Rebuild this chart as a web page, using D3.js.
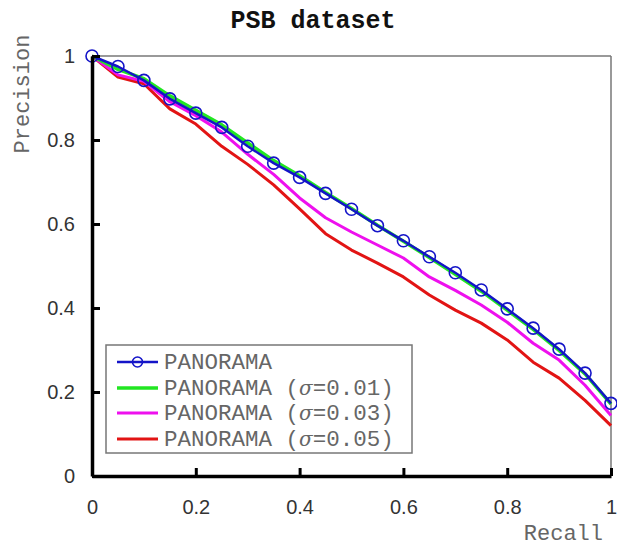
<!DOCTYPE html>
<html>
<head>
<meta charset="utf-8">
<script src="https://cdn.jsdelivr.net/npm/d3@7"></script>
<style>
  html, body { margin: 0; padding: 0; background: #fff; }
  svg { display: block; }
</style>
</head>
<body>
<svg id="chart" width="617" height="547"></svg>
<script>
const recall = [0, 0.05, 0.1, 0.15, 0.2, 0.25, 0.3, 0.35, 0.4, 0.45, 0.5, 0.55, 0.6, 0.65, 0.7, 0.75, 0.8, 0.85, 0.9, 0.95, 1];
const panorama      = [1.0, 0.975, 0.942, 0.898, 0.864, 0.830, 0.785, 0.745, 0.711, 0.673, 0.635, 0.596, 0.560, 0.522, 0.484, 0.443, 0.398, 0.352, 0.302, 0.245, 0.173];
const panorama001   = [1.0, 0.968, 0.946, 0.905, 0.871, 0.836, 0.793, 0.751, 0.715, 0.675, 0.637, 0.597, 0.559, 0.520, 0.480, 0.440, 0.395, 0.349, 0.299, 0.243, 0.171];
const panorama003   = [1.0, 0.955, 0.940, 0.891, 0.858, 0.819, 0.766, 0.718, 0.662, 0.615, 0.581, 0.550, 0.519, 0.474, 0.442, 0.407, 0.366, 0.316, 0.276, 0.216, 0.144];
const panorama005   = [1.0, 0.950, 0.934, 0.874, 0.838, 0.785, 0.742, 0.693, 0.636, 0.577, 0.538, 0.507, 0.474, 0.431, 0.395, 0.364, 0.324, 0.271, 0.233, 0.180, 0.120];
const xTicks = [0, 0.2, 0.4, 0.6, 0.8, 1];
const yTicks = [0, 0.2, 0.4, 0.6, 0.8, 1];
const seriesNames = ["PANORAMA", "PANORAMA (σ=0.01)", "PANORAMA (σ=0.03)", "PANORAMA (σ=0.05)"];
const seriesColors = ["#1414c8", "#22e622", "#ee10ee", "#e21414"];

const series = [
  {name: seriesNames[0], values: panorama,    color: seriesColors[0], width: 2.5, markers: true},
  {name: seriesNames[1], values: panorama001, color: seriesColors[1], width: 3.5, markers: false},
  {name: seriesNames[2], values: panorama003, color: seriesColors[2], width: 3,   markers: false},
  {name: seriesNames[3], values: panorama005, color: seriesColors[3], width: 3,   markers: false}
];

const svg = d3.select("#chart");
const x = d3.scaleLinear().domain([0, 1]).range([92, 611]);
const y = d3.scaleLinear().domain([0, 1]).range([476, 56]);

// Title
svg.append("text")
  .attr("x", 313).attr("y", 28)
  .attr("text-anchor", "middle")
  .attr("font-family", "Liberation Mono, Courier New, monospace")
  .attr("font-weight", "bold")
  .attr("font-size", 25)
  .attr("fill", "#111")
  .text("PSB dataset");

// Frame top/right (thin gray)
svg.append("line").attr("x1", x(0)).attr("x2", x(1)).attr("y1", y(1)).attr("y2", y(1))
  .attr("stroke", "#777").attr("stroke-width", 1.5);
svg.append("line").attr("x1", x(1)).attr("x2", x(1)).attr("y1", y(0)).attr("y2", y(1))
  .attr("stroke", "#777").attr("stroke-width", 1.5);

// Lines (draw red first, blue last)
const line = d3.line().x((d, i) => x(recall[i])).y(d => y(d));
const drawOrder = [3, 2, 1, 0];
drawOrder.forEach(k => {
  const s = series[k];
  svg.append("path")
    .datum(s.values)
    .attr("d", line)
    .attr("fill", "none")
    .attr("stroke", s.color)
    .attr("stroke-width", s.width)
    .attr("stroke-linejoin", "round");
});
svg.append("g").selectAll("circle")
  .data(panorama)
  .join("circle")
  .attr("cx", (d, i) => x(recall[i]))
  .attr("cy", d => y(d))
  .attr("r", 6)
  .attr("fill", "none")
  .attr("stroke", seriesColors[0])
  .attr("stroke-width", 1.6);

// Axes (bottom & left, thick black, inward ticks)
const xAxis = d3.axisBottom(x).tickValues(xTicks).tickSize(-8).tickSizeOuter(0)
  .tickFormat(d => d3.format("")(d)).tickPadding(24);
const gx = svg.append("g").attr("transform", `translate(0,${y(0)})`).call(xAxis);
gx.select(".domain").attr("stroke", "#000").attr("stroke-width", 3.5);
gx.selectAll(".tick line").attr("stroke", "#000").attr("stroke-width", 3);
gx.selectAll(".tick text")
  .attr("font-family", "Liberation Sans, Arial, sans-serif")
  .attr("font-size", 20).attr("fill", "#333");

const yAxis = d3.axisLeft(y).tickValues(yTicks).tickSize(-8).tickSizeOuter(0)
  .tickFormat(d => d3.format("")(d)).tickPadding(17);
const gy = svg.append("g").attr("transform", `translate(${x(0)},0)`).call(yAxis);
gy.select(".domain").attr("stroke", "#000").attr("stroke-width", 3.5);
gy.selectAll(".tick line").attr("stroke", "#000").attr("stroke-width", 3);
gy.selectAll(".tick text")
  .attr("font-family", "Liberation Sans, Arial, sans-serif")
  .attr("font-size", 20).attr("fill", "#333");

// Axis labels
svg.append("text")
  .attr("x", 603).attr("y", 540)
  .attr("text-anchor", "end")
  .attr("font-family", "Liberation Mono, Courier New, monospace")
  .attr("font-size", 22).attr("fill", "#666")
  .text("Recall");
svg.append("text")
  .attr("transform", "translate(29,94) rotate(-90)")
  .attr("text-anchor", "middle")
  .attr("font-family", "Liberation Mono, Courier New, monospace")
  .attr("font-size", 22).attr("fill", "#666")
  .text("Precision");

// Legend
const lg = svg.append("g");
lg.append("rect").attr("x", 106).attr("y", 345).attr("width", 306).attr("height", 108)
  .attr("fill", "#fff").attr("stroke", "#777").attr("stroke-width", 1.5);
const rowY = [362, 388, 413, 439];
series.forEach((s, i) => {
  lg.append("line").attr("x1", 117).attr("x2", 158).attr("y1", rowY[i]).attr("y2", rowY[i])
    .attr("stroke", s.color).attr("stroke-width", s.width);
  if (s.markers) {
    lg.append("circle").attr("cx", 137.5).attr("cy", rowY[i]).attr("r", 5)
      .attr("fill", "none").attr("stroke", s.color).attr("stroke-width", 1.6);
  }
  const t = lg.append("text").attr("x", 164).attr("y", rowY[i] + 7)
    .attr("font-family", "Liberation Mono, Courier New, monospace")
    .attr("font-size", 22.5).attr("fill", "#666").attr("xml:space", "preserve");
  const parts = s.name.split("σ");
  t.append("tspan").text(parts[0]);
  if (parts.length > 1) {
    t.append("tspan").attr("font-family", "DejaVu Serif, serif").attr("font-style", "italic").attr("font-size", 20).text("σ");
    t.append("tspan").text(parts[1]);
  }
});
</script>
</body>
</html>
